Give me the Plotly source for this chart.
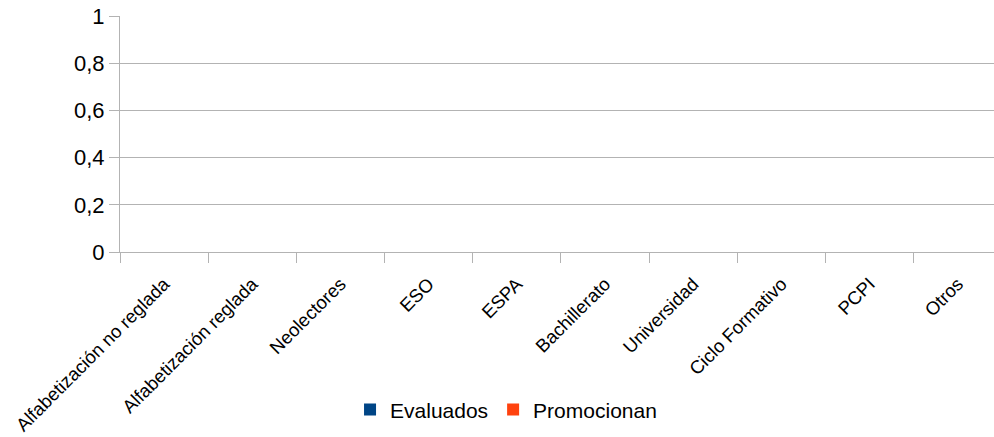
import plotly.graph_objects as go

categories = ["Alfabetización no reglada", "Alfabetización reglada", "Neolectores", "ESO",
              "ESPA", "Bachillerato", "Universidad", "Ciclo Formativo", "PCPI", "Otros"]
evaluados = [0, 0, 0, 0, 0, 0, 0, 0, 0, 0]
promocionan = [0, 0, 0, 0, 0, 0, 0, 0, 0, 0]

fig = go.Figure()
fig.add_trace(go.Bar(x=categories, y=evaluados, name="Evaluados", marker_color="#004586",
                     marker_line_width=0))
fig.add_trace(go.Bar(x=categories, y=promocionan, name="Promocionan", marker_color="#ff420e",
                     marker_line_width=0))

grid = "#b3b3b3"
fig.update_layout(
    width=994, height=437,
    margin=dict(l=120, r=0, t=16, b=185, autoexpand=False),
    paper_bgcolor="white", plot_bgcolor="white",
    font=dict(family="Liberation Sans, Arial, sans-serif", color="black"),
    separators=",.",
    showlegend=True,
    legend=dict(orientation="h", x=0.2632, xanchor="left", xref="paper",
                y=-0.669, yanchor="middle", font=dict(size=21),
                itemwidth=30, traceorder="normal"),
    bargap=0.3,
)
fig.update_xaxes(
    type="category", range=[-0.5, 9.41], tickson="boundaries",
    ticks="outside", ticklen=10, tickcolor=grid, tickangle=-45,
    showline=True, linecolor=grid, showgrid=False, automargin=False,
    tickfont=dict(size=18.5), ticklabelstandoff=13,
)
fig.update_yaxes(
    range=[0, 1], dtick=0.2, tick0=0,
    ticks="outside", ticklen=10, tickcolor=grid,
    showline=True, linecolor=grid, showgrid=True, gridcolor=grid,
    zeroline=False, automargin=False, ticklabeloverflow="allow",
    tickfont=dict(size=22),
)
fig.write_html("out.html",
               config={"displayModeBar": False},
               post_script="document.body.style.margin='0';document.body.style.overflow='hidden';")
